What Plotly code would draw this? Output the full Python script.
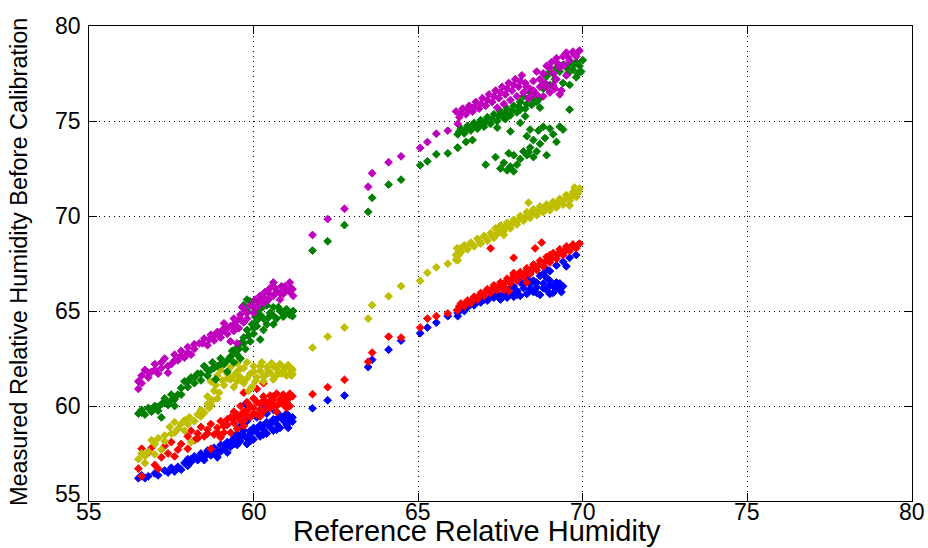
import plotly.graph_objects as go

# Reference RH vs. sensor RH before calibration, five sensors
x_ticks = [55, 60, 65, 70, 75, 80]
y_ticks = [55, 60, 65, 70, 75, 80]

blue_pts = [
    (56.5, 56.2), (56.6, 56.35), (56.7, 56.2), (56.8, 56.3), (57.0, 56.45), (57.1, 56.35),
    (57.3, 56.6), (57.4, 56.5), (57.5, 56.75), (57.6, 56.55), (57.7, 56.8), (57.8, 56.65),
    (57.9, 57.0), (58.0, 56.85), (58.0, 57.2), (58.1, 57.05), (58.2, 57.35), (58.3, 57.15),
    (58.4, 57.5), (58.5, 57.3), (58.6, 57.65), (58.7, 57.4), (58.8, 57.8), (58.8, 57.55),
    (58.9, 57.3), (59.0, 57.95), (59.0, 57.6), (59.1, 57.8), (59.2, 58.1), (59.3, 57.85),
    (59.4, 58.3), (59.4, 58.0), (59.5, 58.55), (59.6, 58.15), (59.6, 58.4), (59.7, 58.7),
    (59.8, 58.3), (59.8, 58.0), (59.9, 58.55), (60.0, 58.85), (60.0, 58.25), (60.1, 58.6),
    (60.2, 59.0), (60.2, 58.4), (60.3, 58.75), (60.4, 59.15), (60.4, 58.55), (60.5, 58.9),
    (60.6, 59.3), (60.6, 58.7), (60.7, 59.05), (60.8, 59.5), (60.8, 58.85), (60.9, 59.25),
    (61.0, 59.6), (61.0, 59.0), (61.1, 59.4), (59.8, 59.2), (60.1, 59.4), (60.4, 59.6),
    (59.6, 58.95), (59.75, 60.1), (60.3, 59.9), (60.6, 59.8),
    (58.1, 57.2), (58.4, 57.35), (58.6, 57.5), (58.9, 57.65), (59.1, 57.95), (59.3, 58.1),
    (59.5, 58.3), (59.7, 58.45), (59.9, 58.7), (60.1, 58.8), (60.3, 59.0), (60.5, 59.1),
    (60.7, 59.3), (60.9, 59.4), (61.1, 59.2), (59.5, 57.95), (59.9, 58.15), (60.3, 58.5),
    (60.7, 58.75), (61.05, 58.85), (59.2, 57.55), (58.5, 57.15),
    (61.18, 59.4), (61.18, 59.18), (61.79, 59.88), (62.25, 60.3), (62.76, 60.55),
    (63.48, 62.05), (63.6, 62.44), (64.1, 62.96), (64.48, 63.44), (65.06, 63.83),
    (65.28, 64.13), (65.55, 64.39), (65.9, 64.73), (66.2, 64.73),
    (66.2, 64.9), (66.3, 65.1), (66.4, 65.0), (66.5, 65.2), (66.6, 65.35), (66.7, 65.3),
    (66.8, 65.5), (66.9, 65.45), (67.0, 65.6), (67.1, 65.55), (67.2, 65.75), (67.3, 65.7),
    (67.4, 65.9), (67.5, 65.6), (67.6, 65.85), (67.7, 66.1), (67.7, 65.7), (67.8, 65.95),
    (67.9, 66.3), (67.9, 65.75), (68.0, 66.05), (68.1, 66.5), (68.1, 65.8), (68.2, 66.2),
    (68.3, 66.7), (68.3, 65.9), (68.4, 66.4), (68.4, 67.0), (68.5, 66.0), (68.5, 66.6),
    (68.6, 66.25), (68.7, 66.85), (68.7, 65.85), (68.8, 66.45), (68.9, 66.1), (68.9, 67.2),
    (69.0, 66.6), (69.0, 65.9), (69.1, 66.3), (69.2, 66.2), (69.3, 66.45), (69.35, 66.0),
    (69.4, 66.3), (69.2, 67.4), (69.4, 67.6), (69.5, 67.35), (69.6, 67.8), (69.8, 67.95),
    (69.0, 67.1), (68.8, 66.95),
    (67.5, 65.8), (67.8, 66.2), (68.0, 65.85), (68.2, 66.45), (68.4, 66.15), (68.6, 66.5),
    (68.6, 65.95), (68.8, 66.2), (69.0, 66.35), (69.2, 66.5), (69.1, 65.95), (68.9, 66.75),
    (69.3, 66.15),
]

red_pts = [
    (56.5, 56.7), (56.6, 56.3), (56.6, 57.75), (56.8, 57.55), (56.9, 57.8), (57.0, 56.9),
    (57.1, 56.7), (57.2, 57.3), (57.3, 57.9), (57.4, 57.5), (57.5, 58.1), (57.6, 57.35),
    (57.7, 57.7), (57.8, 58.0), (58.0, 58.4), (58.0, 57.75), (58.1, 58.7), (58.2, 58.2),
    (58.3, 58.55), (58.4, 58.9), (58.5, 58.4), (58.6, 58.75), (58.7, 57.75), (58.7, 59.05),
    (58.8, 58.5), (58.9, 58.85), (59.0, 59.2), (59.0, 58.35), (59.1, 58.6), (59.2, 59.0),
    (59.3, 59.4), (59.3, 58.6), (59.4, 59.7), (59.4, 59.1), (59.5, 58.8), (59.6, 59.5),
    (59.6, 60.0), (59.7, 59.2), (59.8, 59.75), (59.8, 60.2), (59.9, 59.4), (60.0, 59.9),
    (60.0, 60.4), (60.1, 59.55), (60.2, 60.1), (60.3, 60.5), (60.3, 59.7), (60.4, 60.2),
    (60.5, 59.9), (60.5, 60.55), (60.6, 60.3), (60.7, 60.0), (60.7, 60.65), (60.8, 60.35),
    (60.9, 60.1), (60.9, 60.6), (61.0, 60.4), (61.1, 60.65), (61.0, 59.9), (60.1, 60.9),
    (60.3, 61.2), (59.7, 60.7),
    (58.3, 58.3), (58.6, 58.55), (58.9, 58.6), (59.1, 58.95), (59.2, 59.3), (59.4, 59.35),
    (59.5, 59.55), (59.6, 59.25), (59.7, 59.7), (59.8, 59.45), (59.9, 60.0), (60.0, 59.6),
    (60.1, 60.2), (60.2, 59.8), (60.3, 60.3), (60.4, 59.95), (60.5, 60.25), (60.6, 60.5),
    (60.6, 60.0), (60.8, 60.15), (60.9, 60.45), (61.0, 60.2), (61.1, 60.45), (61.1, 60.0),
    (60.7, 59.7), (60.2, 59.45), (59.7, 58.95),
    (61.18, 60.51), (61.79, 60.62), (62.25, 60.99), (62.76, 61.38), (63.48, 62.33),
    (63.6, 62.81), (64.1, 63.65), (64.48, 63.6), (65.06, 64.13), (65.28, 64.6),
    (65.55, 64.73), (65.9, 64.87), (66.18, 65.04),
    (66.2, 65.05), (66.3, 65.4), (66.4, 65.25), (66.5, 65.55), (66.6, 65.4), (66.7, 65.75),
    (66.8, 65.6), (66.9, 65.95), (67.0, 65.8), (67.1, 66.15), (67.2, 65.95), (67.3, 66.35),
    (67.4, 66.1), (67.5, 66.5), (67.6, 66.25), (67.7, 66.7), (67.8, 66.45), (67.9, 66.9),
    (67.9, 67.8), (68.0, 66.6), (68.1, 67.05), (68.2, 66.8), (68.3, 67.25), (68.4, 66.95),
    (68.5, 67.45), (68.55, 68.3), (68.6, 67.15), (68.7, 67.65), (68.75, 68.6), (68.8, 67.35),
    (68.9, 67.85), (69.0, 67.55), (69.0, 67.95), (69.1, 68.05), (69.2, 67.75), (69.3, 68.25),
    (69.4, 67.95), (69.5, 68.4), (69.6, 68.15), (69.7, 68.5), (69.8, 68.3), (69.9, 68.55),
    (67.2, 68.3), (67.9, 67.0), (67.6, 66.1), (67.75, 66.05), (68.3, 66.5),
    (66.25, 65.25), (66.45, 65.4), (66.65, 65.6), (66.85, 65.8), (67.05, 66.0), (67.25, 66.15),
    (67.45, 66.3), (67.65, 66.5), (67.85, 66.7), (68.05, 66.85), (68.25, 67.05), (68.45, 67.2),
    (68.65, 67.4), (68.85, 67.6), (69.05, 67.75), (69.25, 68.0), (69.45, 68.15), (69.65, 68.35),
    (69.85, 68.45),
]

yellow_pts = [
    (56.5, 57.2), (56.6, 57.5), (56.7, 57.0), (56.8, 57.6), (56.9, 58.2), (57.0, 57.45),
    (57.1, 58.3), (57.2, 57.7), (57.3, 58.15), (57.45, 58.9), (57.5, 58.55), (57.6, 59.15),
    (57.7, 58.8), (57.8, 59.05), (57.9, 59.25), (58.05, 59.4), (58.1, 58.1), (58.2, 59.2),
    (58.3, 59.55), (58.4, 59.8), (58.5, 59.65), (58.6, 60.1), (58.65, 59.9), (58.6, 60.5),
    (58.75, 60.3), (58.8, 60.8), (58.85, 61.1), (58.7, 61.3), (58.9, 61.6), (59.0, 61.9),
    (59.05, 61.35), (59.2, 61.7), (59.3, 62.05), (59.3, 61.4), (59.4, 61.0), (59.5, 61.8),
    (59.5, 62.25), (59.6, 61.5), (59.7, 62.0), (59.7, 61.2), (59.8, 62.3), (59.9, 61.7),
    (59.95, 61.0), (60.0, 62.1), (60.1, 61.5), (60.2, 61.85), (60.25, 62.3), (60.35, 61.6),
    (60.4, 62.05), (60.5, 61.75), (60.55, 62.25), (60.65, 61.55), (60.7, 61.95), (60.8, 62.2),
    (60.85, 61.7), (60.95, 62.0), (61.0, 61.6), (61.05, 62.15), (61.15, 61.8), (61.15, 61.6),
    (60.3, 61.3), (59.85, 60.8),
    (59.4, 61.6), (59.6, 61.95), (59.8, 61.45), (60.0, 61.8), (60.2, 62.1), (60.3, 61.55),
    (60.45, 61.85), (60.6, 62.1), (60.75, 61.7), (60.9, 61.85), (61.1, 62.0), (59.1, 61.1),
    (59.2, 61.45), (58.95, 60.7), (58.7, 60.05), (58.9, 60.4), (58.4, 59.45), (58.0, 59.05),
    (57.9, 58.7), (57.6, 58.6), (57.3, 58.45), (57.0, 58.0), (56.7, 57.35), (59.5, 61.3),
    (60.05, 61.3), (60.6, 61.4),
    (61.18, 61.92), (61.18, 61.68), (61.79, 63.07), (62.25, 63.65), (62.76, 64.13),
    (63.48, 64.6), (63.6, 65.31), (64.1, 65.78), (64.48, 66.31), (65.06, 66.59),
    (65.28, 67.01), (65.55, 67.3), (65.9, 67.49), (66.2, 67.67), (66.22, 67.93),
    (66.18, 68.3), (66.33, 68.34),
    (66.15, 67.7), (66.15, 67.95), (66.2, 68.3), (66.3, 68.1), (66.4, 68.45), (66.5, 68.25),
    (66.6, 68.6), (66.7, 68.4), (66.8, 68.8), (66.9, 68.55), (67.0, 68.95), (67.1, 68.7),
    (67.2, 69.1), (67.3, 68.85), (67.35, 69.35), (67.4, 69.05), (67.5, 69.5), (67.6, 69.2),
    (67.6, 69.0), (67.7, 69.65), (67.8, 69.35), (67.9, 69.8), (68.0, 69.55), (68.1, 70.0),
    (68.2, 69.75), (68.3, 70.2), (68.35, 70.7), (68.4, 69.9), (68.5, 70.35), (68.6, 70.05),
    (68.7, 70.5), (68.8, 70.2), (68.9, 70.6), (69.0, 70.3), (69.1, 70.75), (69.2, 70.45),
    (69.3, 70.9), (69.4, 70.6), (69.5, 71.1), (69.6, 70.8), (69.6, 70.55), (69.7, 71.25),
    (69.8, 71.0), (69.9, 71.45), (69.85, 71.2), (69.75, 71.5),
    (66.25, 68.2), (66.45, 68.35), (66.65, 68.5), (66.85, 68.7), (67.05, 68.85), (67.25, 69.0),
    (67.45, 69.25), (67.65, 69.4), (67.85, 69.6), (68.05, 69.8), (68.25, 69.95), (68.45, 70.15),
    (68.65, 70.3), (68.85, 70.45), (69.05, 70.55), (69.25, 70.7), (69.45, 70.85), (69.65, 71.0),
    (69.85, 71.3),
]

green_pts = [
    (56.5, 59.6), (56.6, 59.8), (56.7, 59.55), (56.8, 59.9), (56.9, 59.7), (57.0, 60.0),
    (57.1, 59.75), (57.2, 60.1), (57.3, 60.4), (57.4, 60.05), (57.5, 60.3), (57.6, 60.0),
    (57.7, 60.6), (57.8, 60.95), (57.9, 61.3), (58.0, 61.0), (58.1, 61.5), (58.2, 61.2),
    (58.3, 61.7), (58.4, 61.35), (58.5, 62.1), (58.6, 61.6), (58.7, 61.9), (58.75, 62.3),
    (58.85, 61.4), (58.9, 62.1), (59.0, 62.5), (59.1, 62.2), (59.2, 61.8), (59.3, 62.6),
    (59.4, 62.3), (59.45, 63.0), (59.5, 62.7), (59.6, 63.3), (59.6, 62.5), (59.7, 63.6),
    (59.75, 63.0), (59.8, 64.0), (59.9, 63.4), (59.95, 64.3), (60.0, 63.8), (60.05, 64.7),
    (60.1, 64.2), (59.7, 65.3), (59.8, 65.0), (59.9, 65.5), (60.2, 65.1), (60.3, 64.6),
    (60.4, 65.3), (60.5, 64.9), (60.6, 65.2), (60.7, 64.6), (60.8, 65.0), (60.9, 64.7),
    (61.0, 65.1), (61.1, 64.8), (61.2, 65.0), (60.6, 64.3), (60.3, 64.0), (60.2, 63.5),
    (57.2, 59.4), (57.5, 60.6),
    (56.6, 59.65), (56.9, 59.85), (57.1, 59.95), (57.3, 60.2), (57.6, 60.35), (57.8, 60.6),
    (58.0, 61.3), (58.2, 61.5), (58.4, 61.7), (58.6, 61.9), (58.8, 62.0), (59.0, 62.2),
    (59.2, 62.4), (59.35, 62.9), (59.55, 63.0), (59.7, 63.3), (59.85, 63.7), (60.0, 64.1),
    (60.1, 64.5), (60.1, 64.95), (60.3, 65.25), (60.45, 64.65), (60.6, 64.75), (60.75, 65.2),
    (60.9, 64.95), (61.05, 64.9), (60.0, 65.2), (59.8, 65.6), (60.4, 64.3), (60.2, 64.8),
    (61.18, 64.73), (61.79, 68.18), (62.25, 68.67), (62.76, 69.52), (63.48, 70.22),
    (63.6, 70.96), (64.1, 71.65), (64.48, 71.91), (65.06, 72.67), (65.28, 72.88),
    (65.55, 73.25), (65.9, 73.3), (66.2, 73.59),
    (66.2, 74.3), (66.3, 74.6), (66.4, 74.35), (66.5, 74.75), (66.6, 74.5), (66.7, 74.9),
    (66.8, 74.6), (66.9, 75.05), (67.0, 74.7), (67.1, 75.2), (67.2, 74.85), (67.3, 75.35),
    (67.4, 75.0), (67.5, 75.5), (67.6, 75.15), (67.7, 75.65), (67.8, 75.3), (67.9, 75.8),
    (68.0, 75.45), (68.1, 76.0), (68.2, 76.3), (68.3, 75.9), (68.4, 76.5), (68.5, 76.1),
    (68.6, 76.0), (68.7, 75.7),
    (66.25, 74.45), (66.45, 74.55), (66.65, 74.7), (66.85, 74.85), (67.05, 74.95), (67.25, 75.1),
    (67.45, 75.25), (67.65, 75.4), (67.85, 75.55), (68.05, 75.75), (68.25, 75.65), (68.45, 75.85),
    (68.35, 76.2), (68.55, 76.4), (68.7, 76.2),
    (66.2, 73.6), (66.45, 73.9), (66.65, 74.0), (67.4, 74.65), (67.65, 75.1), (67.8, 74.45),
    (68.1, 75.6), (68.25, 75.25), (68.1, 74.9), (68.4, 74.55),
    (68.3, 74.2), (68.4, 73.6), (68.5, 74.0), (68.6, 73.4), (68.65, 74.5), (68.7, 73.8),
    (68.8, 74.7), (68.85, 74.1), (68.9, 73.2), (69.0, 74.6), (69.1, 74.3), (69.2, 73.9),
    (69.3, 74.7), (69.4, 74.55), (69.6, 75.6), (68.5, 73.1), (68.35, 73.35),
    (67.05, 72.7), (67.35, 73.1), (67.5, 72.5), (67.6, 72.8), (67.7, 72.4), (67.8, 72.6),
    (67.9, 72.35), (68.0, 72.7), (68.1, 73.0), (68.2, 73.4), (68.3, 73.2), (67.9, 73.2),
    (67.75, 73.3),
    (68.9, 77.35), (69.0, 77.6), (69.1, 77.5), (69.2, 77.8), (69.3, 77.6), (69.4, 77.95),
    (69.5, 77.8), (69.6, 78.0), (69.7, 77.7), (69.8, 78.1), (69.9, 77.9), (70.0, 78.2),
    (69.95, 77.6), (69.4, 77.0), (69.6, 76.9), (69.8, 77.3), (68.8, 76.7), (69.0, 76.9),
    (69.15, 77.2), (69.55, 77.5), (69.75, 78.0), (69.85, 77.5),
]

magenta_pts = [
    (56.5, 60.9), (56.5, 61.3), (56.6, 61.6), (56.7, 61.9), (56.8, 61.5), (56.9, 61.8),
    (57.0, 62.2), (57.1, 61.7), (57.2, 62.0), (57.3, 62.5), (57.4, 61.75), (57.5, 62.2),
    (57.6, 62.7), (57.7, 62.4), (57.8, 62.9), (57.9, 62.55), (58.0, 63.1), (58.1, 62.7),
    (58.2, 63.0), (58.35, 63.3), (58.5, 63.55), (58.6, 63.2), (58.7, 63.75), (58.8, 63.45),
    (58.9, 63.9), (59.0, 63.6), (59.05, 64.0), (59.2, 63.8), (59.3, 64.2), (59.4, 63.95),
    (59.5, 64.5), (59.55, 64.1), (59.6, 64.8), (59.7, 64.4), (59.75, 65.0), (59.8, 64.6),
    (59.9, 65.3), (60.0, 64.9), (60.05, 65.6), (60.1, 65.2), (60.2, 65.8), (60.3, 65.4),
    (60.35, 66.0), (60.45, 65.6), (60.5, 66.2), (60.6, 65.8), (60.6, 66.5), (60.7, 66.0),
    (60.8, 65.6), (60.85, 66.3), (60.9, 65.9), (61.0, 66.1), (61.1, 66.5), (61.15, 66.2),
    (61.2, 65.8), (59.3, 63.4), (59.5, 63.3),
    (56.6, 61.2), (56.8, 61.75), (57.0, 61.9), (57.2, 62.3), (57.4, 62.1), (57.6, 62.4),
    (57.8, 62.65), (58.0, 62.8), (58.2, 63.25), (58.45, 63.3), (58.65, 63.5), (58.8, 63.7),
    (59.0, 63.85), (59.2, 64.1), (59.4, 64.3), (59.6, 64.55), (59.8, 64.9), (60.0, 65.25),
    (60.15, 65.5), (60.3, 65.7), (60.45, 65.95), (60.65, 66.2), (60.8, 65.95), (60.95, 66.3),
    (61.1, 66.0), (59.1, 64.35), (59.4, 64.6), (59.65, 65.2),
    (61.18, 66.15), (61.79, 69.0), (62.25, 69.84), (62.76, 70.38), (63.48, 71.54),
    (63.6, 72.25), (64.1, 72.83), (64.48, 73.14), (65.06, 73.59), (65.28, 73.89),
    (65.55, 74.33), (65.9, 74.49),
    (66.15, 75.5), (66.2, 74.85), (66.25, 75.2), (66.35, 75.65), (66.45, 75.35), (66.55, 75.8),
    (66.65, 75.5), (66.75, 76.0), (66.85, 75.65), (66.95, 76.2), (67.05, 75.8), (67.15, 76.4),
    (67.25, 76.0), (67.35, 76.6), (67.4, 75.7), (67.45, 76.2), (67.55, 76.8), (67.6, 75.9),
    (67.65, 76.4), (67.75, 77.0), (67.8, 76.1), (67.85, 76.6), (67.95, 77.2), (68.0, 76.3),
    (68.05, 76.8), (68.15, 77.4), (68.2, 76.5), (68.25, 77.0), (68.35, 76.2), (68.4, 76.7),
    (68.5, 77.1), (68.6, 76.4), (68.6, 77.6), (68.7, 76.8), (68.8, 76.3), (68.85, 77.0),
    (68.9, 77.9), (69.0, 76.5), (69.05, 78.1), (69.1, 77.5), (69.15, 76.7), (69.2, 78.3),
    (69.3, 77.8), (69.35, 76.6), (69.4, 78.4), (69.45, 77.95), (69.5, 78.6), (69.6, 78.2),
    (69.7, 78.65), (69.8, 78.4), (69.9, 78.7), (69.5, 77.4), (69.2, 77.2),
    (66.3, 75.4), (66.5, 75.6), (66.7, 75.75), (66.9, 75.9), (67.1, 76.1), (67.3, 76.3),
    (67.5, 76.5), (67.7, 76.7), (67.9, 76.9), (68.1, 77.1), (68.3, 76.8), (68.5, 76.6),
    (68.7, 77.2), (68.9, 76.75), (69.1, 76.9), (68.8, 77.5), (69.0, 77.8), (69.25, 78.0),
    (69.55, 78.35), (69.75, 78.5), (69.3, 76.4), (68.45, 76.35),
]

series = [
    ("Sensor 1", blue_pts, "#0000FF"),
    ("Sensor 2", red_pts, "#FF0000"),
    ("Sensor 3", yellow_pts, "#BFBF00"),
    ("Sensor 4", green_pts, "#008000"),
    ("Sensor 5", magenta_pts, "#BF00BF"),
]

FONT = "Liberation Sans, Arial, Helvetica, sans-serif"

fig = go.Figure()
for name, pts, color in series:
    xs = [p[0] for p in pts]
    ys = [p[1] for p in pts]
    fig.add_trace(go.Scatter(
        x=xs, y=ys, mode="markers", name=name,
        marker=dict(symbol="diamond", size=6, color=color,
                    line=dict(width=1, color=color)),
    ))

axis_common = dict(
    range=[55, 80], tickmode="array",
    ticks="inside", ticklen=8, tickwidth=1, tickcolor="black",
    showline=True, linecolor="black", linewidth=1, mirror="ticks",
    showgrid=True, gridcolor="black", gridwidth=1, griddash="1px,4px",
    zeroline=False, automargin=False, showticklabels=False,
)

tick_font = dict(family=FONT, size=23, color="black")

# tick labels placed at the tick values, close to the axes
x_labels = [
    dict(text=str(v), xref="x", yref="paper", x=v, y=-0.0233,
         xanchor="center", yanchor="middle", showarrow=False, font=tick_font)
    for v in x_ticks
]
y_labels = [
    dict(text=str(v), xref="paper", yref="y", x=0, y=v, xshift=-6,
         yshift=7 if v == y_ticks[0] else 0,
         xanchor="right", yanchor="middle", showarrow=False, font=tick_font)
    for v in y_ticks
]

fig.update_layout(
    width=928, height=548,
    margin=dict(l=89, r=16, t=26, b=47),
    paper_bgcolor="white", plot_bgcolor="white",
    showlegend=False,
    xaxis=dict(axis_common, tickvals=x_ticks),
    yaxis=dict(axis_common, tickvals=y_ticks),
    annotations=x_labels + y_labels + [
        dict(text="Reference Relative Humidity", xref="paper", yref="paper",
             x=0.472, y=-0.1, xanchor="center", yanchor="bottom",
             showarrow=False, font=dict(family=FONT, size=29, color="black")),
        dict(text="Measured Relative Humidity Before Calibration", xref="paper", yref="paper",
             x=-0.085, y=0.503, xanchor="center", yanchor="middle", textangle=-90,
             showarrow=False, font=dict(family=FONT, size=23.5, color="black")),
    ],
)

fig.write_html("out.html")
